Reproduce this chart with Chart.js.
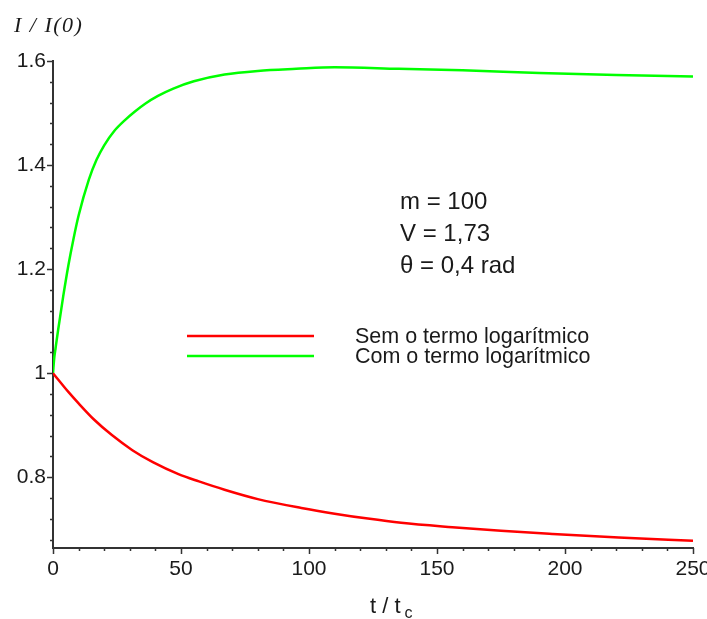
<!DOCTYPE html>
<html>
<head>
<meta charset="utf-8">
<script src="https://cdn.jsdelivr.net/npm/chart.js@4.4.1/dist/chart.umd.min.js"></script>
<style>
  html, body { margin: 0; padding: 0; background: #ffffff; }
  #wrap { width: 707px; height: 619px; }
</style>
</head>
<body>
<div id="wrap"><canvas id="c" width="707" height="619"></canvas></div>
<script>
// Intensity ratio I/I(0) against t/t_c
const tSem = [0, 6, 10, 16, 23, 31, 39, 49, 57, 67, 80, 97, 110, 123, 136, 156, 175, 195, 221, 250];
const iSem = [1.0, 0.964, 0.942, 0.911, 0.881, 0.852, 0.829, 0.806, 0.792, 0.776, 0.758, 0.741, 0.730, 0.7205, 0.7125, 0.704, 0.697, 0.691, 0.684, 0.678];

const tCom = [0, 0.5, 1, 2, 4, 6, 8, 10, 14, 17, 20, 24, 28, 32, 36, 41, 47, 55, 67, 80, 95, 110, 135, 160, 190, 220, 250];
const iCom = [1.0, 1.03, 1.048, 1.083, 1.148, 1.207, 1.258, 1.303, 1.372, 1.41, 1.438, 1.466, 1.486, 1.503, 1.518, 1.533, 1.547, 1.561, 1.574, 1.581, 1.585, 1.588, 1.585, 1.582, 1.577, 1.573, 1.570];

const seriesNames = ['Sem o termo logarítmico', 'Com o termo logarítmico'];
const seriesColors = ['#ff0000', '#00ff00'];

const xTicks = [0, 50, 100, 150, 200, 250];
const xTickLabels = ['0', '50', '100', '150', '200', '250'];
const xMinor = [10, 20, 30, 40, 60, 70, 80, 90, 110, 120, 130, 140, 160, 170, 180, 190, 210, 220, 230, 240];

const yTicks = [0.8, 1, 1.2, 1.4, 1.6];
const yTickLabels = ['0.8', '1', '1.2', '1.4', '1.6'];
const yMinor = [0.68, 0.72, 0.76, 0.84, 0.88, 0.92, 0.96, 1.04, 1.08, 1.12, 1.16, 1.24, 1.28, 1.32, 1.36, 1.44, 1.48, 1.52, 1.56];

const yMin = 0.664, yMax = 1.6, xMin = 0, xMax = 250;

const paramLines = ['m = 100', 'V = 1,73', 'θ = 0,4 rad'];
const yTitle = 'I / I(0)';
const xTitleMain = 't / t';
const xTitleSub = 'c';

const SANS = '"Liberation Sans", Arial, Helvetica, sans-serif';
const SERIF = '"Liberation Serif", "Times New Roman", serif';
const AXIS = '#333333';
const INK = '#1a1a1a';

const toPoints = (xs, ys) => xs.map((x, i) => ({ x: x, y: ys[i] }));

// Tick marks (long majors, short minors), titles, legend and parameter box
const decorations = {
  id: 'decorations',
  afterDraw(chart) {
    const ctx = chart.ctx;
    const xs = chart.scales.x, ys = chart.scales.y;
    const area = chart.chartArea;
    ctx.save();
    ctx.strokeStyle = AXIS;
    ctx.lineWidth = 1.5;
    ctx.beginPath();
    xTicks.forEach(v => { const px = Math.round(xs.getPixelForValue(v)) + 0.5; ctx.moveTo(px, area.bottom); ctx.lineTo(px, area.bottom + 6); });
    xMinor.forEach(v => { const px = Math.round(xs.getPixelForValue(v)) + 0.5; ctx.moveTo(px, area.bottom); ctx.lineTo(px, area.bottom + 3); });
    yTicks.forEach(v => { const py = Math.round(ys.getPixelForValue(v)) + 0.5; ctx.moveTo(area.left, py); ctx.lineTo(area.left - 6, py); });
    yMinor.forEach(v => { const py = Math.round(ys.getPixelForValue(v)) + 0.5; ctx.moveTo(area.left, py); ctx.lineTo(area.left - 3, py); });
    ctx.stroke();

    // y-axis title
    ctx.fillStyle = INK;
    ctx.textBaseline = 'alphabetic';
    ctx.textAlign = 'left';
    ctx.font = 'italic 22px ' + SERIF;
    if ('letterSpacing' in ctx) ctx.letterSpacing = '1.5px';
    ctx.fillText(yTitle, 14, 32);
    if ('letterSpacing' in ctx) ctx.letterSpacing = '0px';

    // x-axis title with subscript
    ctx.font = '22px ' + SANS;
    const w = ctx.measureText(xTitleMain).width;
    const x0 = 370;
    ctx.fillText(xTitleMain, x0, 613);
    ctx.font = '16px ' + SANS;
    ctx.fillText(xTitleSub, x0 + w + 4, 618);

    // parameter box
    ctx.font = '24px ' + SANS;
    paramLines.forEach((s, i) => ctx.fillText(s, 400, 209 + i * 32));

    // legend
    ctx.font = '21.5px ' + SANS;
    seriesNames.forEach((name, i) => {
      const ly = 336 + i * 20;
      ctx.strokeStyle = seriesColors[i];
      ctx.lineWidth = 2.5;
      ctx.beginPath();
      ctx.moveTo(187, ly);
      ctx.lineTo(314, ly);
      ctx.stroke();
      ctx.fillStyle = INK;
      ctx.fillText(name, 355, ly + 7);
    });
    ctx.restore();
  }
};

new Chart(document.getElementById('c'), {
  type: 'line',
  data: {
    datasets: [
      { label: seriesNames[0], data: toPoints(tSem, iSem), borderColor: seriesColors[0], borderWidth: 2.5 },
      { label: seriesNames[1], data: toPoints(tCom, iCom), borderColor: seriesColors[1], borderWidth: 2.5 }
    ]
  },
  options: {
    responsive: false,
    animation: false,
    events: [],
    layout: { padding: { top: 61, right: 14, left: 0, bottom: 0 } },
    elements: {
      point: { radius: 0 },
      line: { fill: false, cubicInterpolationMode: 'monotone' }
    },
    plugins: { legend: { display: false }, tooltip: { enabled: false } },
    scales: {
      x: {
        type: 'linear',
        min: xMin, max: xMax,
        afterBuildTicks: s => { s.ticks = xTicks.map(v => ({ value: v })); },
        afterFit: s => { s.height = 71; s.paddingLeft = 0; s.paddingRight = 0; },
        ticks: {
          autoSkip: false, maxRotation: 0, padding: 3,
          callback: (v, i) => xTickLabels[i],
          font: { family: SANS, size: 21 }, color: INK
        },
        grid: { display: false, drawTicks: true, tickLength: 6 },
        border: { display: true, color: AXIS, width: 2 }
      },
      y: {
        type: 'linear',
        min: yMin, max: yMax,
        afterBuildTicks: s => { s.ticks = yTicks.map(v => ({ value: v })); },
        afterFit: s => { s.width = 53; s.paddingTop = 0; s.paddingBottom = 0; },
        ticks: {
          autoSkip: false, padding: 1,
          callback: (v, i) => yTickLabels[i],
          font: { family: SANS, size: 21 }, color: INK
        },
        grid: { display: false, drawTicks: true, tickLength: 6 },
        border: { display: true, color: AXIS, width: 2 }
      }
    }
  },
  plugins: [decorations]
});
</script>
</body>
</html>
